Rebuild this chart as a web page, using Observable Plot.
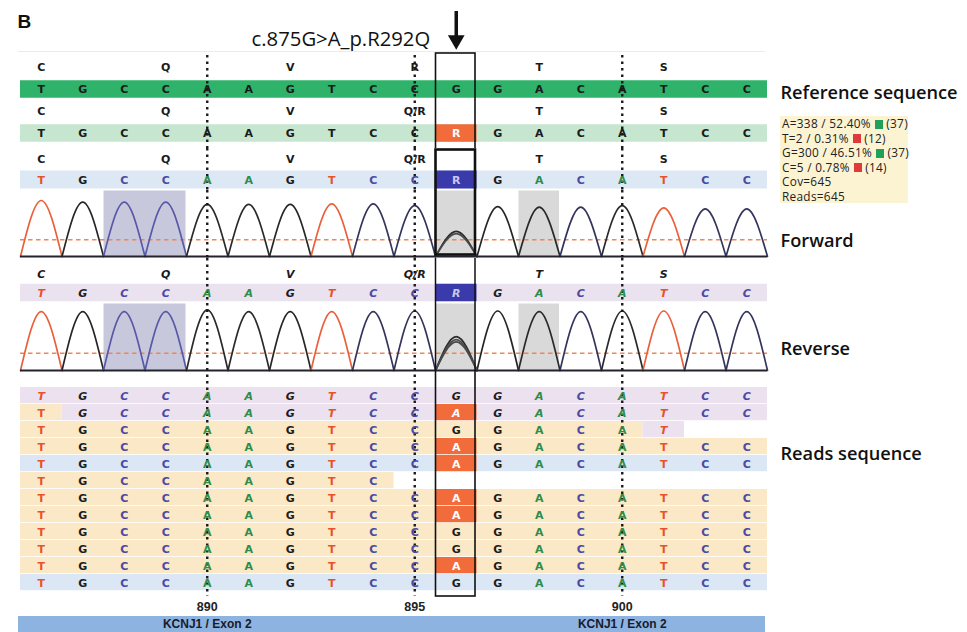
<!DOCTYPE html>
<html>
<head>
<meta charset="utf-8">
<script src="https://cdn.jsdelivr.net/npm/d3@7"></script>
<script src="https://cdn.jsdelivr.net/npm/@observablehq/plot@0.6"></script>
<style>
  html, body { margin: 0; padding: 0; background: #fff; }
  #chart { position: relative; width: 967px; height: 632px; overflow: hidden; background: #fff; }
  #chart svg { display: block; }
  #legend { position: absolute; left: 780px; top: 116px; width: 128px; height: 87px; background: #fcf3d3;
    font-family: "Open Sans", sans-serif; font-size: 11.8px; line-height: 14.5px; color: #222;
    padding-left: 2px; box-sizing: border-box; letter-spacing: 0.3px; white-space: nowrap; }
  #legend .sq { display: inline-block; width: 8px; height: 9px; margin: 0 3px 0 1px; vertical-align: -0.5px; }
</style>
</head>
<body>
<div id="chart"><div id="legend"></div></div>
<script>
// ---------------- data ----------------
const panelLabel = "B";
const titleText = "c.875G>A_p.R292Q";
const positions = [886, 887, 888, 889, 890, 891, 892, 893, 894, 895, 896, 897, 898, 899, 900, 901, 902, 903];
const refSeq       = ["T","G","C","C","A","A","G","T","C","C","G","G","A","C","A","T","C","C"];
const consensusSeq = ["T","G","C","C","A","A","G","T","C","C","R","G","A","C","A","T","C","C"];
const forwardSeq   = ["T","G","C","C","A","A","G","T","C","C","R","G","A","C","A","T","C","C"];
const reverseSeq   = ["T","G","C","C","A","A","G","T","C","C","R","G","A","C","A","T","C","C"];
const aaPositions = [886, 889, 892, 895, 898, 901];
const aaReference = ["C", "Q", "V", "R", "T", "S"];
const aaSample    = ["C", "Q", "V", "Q/R", "T", "S"];
const variantPos = 896;
const guidePositions = [890, 895, 900];
const lowQualityCols = [888, 889];
const highlightedCols = [896, 898];
const forwardPeaks = [1.0, 0.97, 0.97, 0.97, 0.93, 0.93, 0.93, 0.94, 0.94, 0.91, 0.45, 0.89, 0.88, 0.88, 0.91, 0.87, 0.85, 0.85];
const forwardSecondaryPeaks = [0.41];
const reversePeaks = [0.99, 0.99, 0.99, 0.99, 1.02, 0.99, 0.99, 0.99, 0.99, 1.0, 0.57, 1.0, 0.99, 0.99, 1.0, 1.0, 0.99, 0.99];
const reverseSecondaryPeaks = [0.52, 0.48];
const forwardThreshold = 0.3;
const reverseThreshold = 0.29;
const reads = [
  "TGCCAAGTCCGGACATCC",
  "TGCCAAGTCCAGACATCC",
  "TGCCAAGTCCGGACAT  ",
  "TGCCAAGTCCAGACATCC",
  "TGCCAAGTCCAGACATCC",
  "TGCCAAGTC         ",
  "TGCCAAGTCCAGACATCC",
  "TGCCAAGTCCAGACATCC",
  "TGCCAAGTCCGGACATCC",
  "TGCCAAGTCCGGACATCC",
  "TGCCAAGTCCAGACATCC",
  "TGCCAAGTCCGGACATCC"
];
// F = forward read, R = reverse read, B = other forward read (blue)
const readStrands = [
  "RRRRRRRRRRRRRRRRRR",
  "FRRRRRRRRRRRRRRRRR",
  "FFFFFFFFFFFFFFFR  ",
  "FFFFFFFFFFFFFFFFFF",
  "BBBBBBBBBBBBBBBBBB",
  "FFFFFFFFF         ",
  "FFFFFFFFFFFFFFFFFF",
  "FFFFFFFFFFFFFFFFFF",
  "FFFFFFFFFFFFFFFFFF",
  "FFFFFFFFFFFFFFFFFF",
  "FFFFFFFFFFFFFFFFFF",
  "BBBBBBBBBBBBBBBBBB"
];
const legendBases = ["A", "T", "G", "C"];
const legendCounts = [338, 2, 300, 5];
const legendPercents = ["52.40", "0.31", "46.51", "0.78"];
const legendQuality = [37, 12, 37, 14];
const legendPass = [true, false, true, false];
const coverage = 645;
const readCount = 645;
const exonName = "KCNJ1 / Exon 2";
const exonLabelPositions = [890, 900];
const trackLabels = ["Reference sequence", "Forward", "Reverse", "Reads sequence"];

// ---------------- styles ----------------
const baseColor = {T: "#e6522c", G: "#1c1c1c", C: "#4a4aa4", A: "#2f8c48"};
const peakColor = {T: "#e9603a", G: "#262626", C: "#34345c", A: "#2a2a2a", R: "#2a2a2a"};
const lowQualityPeak = "#5858a8";
const letterFont = "DejaVu Sans";
const labelFont = "Open Sans";
const letterSize = 11;
const xMin = positions[0] - 0.5;
const xMax = positions[positions.length - 1] + 0.5;
const readColor = {F: "#fbe8c6", R: "#ebe1ef", B: "#dbe7f4"};
const isAmbiguous = b => b === "R";

function section(height, opts) {
  return Plot.plot({
    width: 967, height, marginLeft: 20, marginRight: 200, marginTop: 0, marginBottom: 0,
    x: {domain: [xMin, xMax], axis: null},
    style: {background: "white", overflow: "hidden", display: "block"},
    ...opts
  });
}
const cols = seq => seq.map((b, i) => ({b, p: positions[i], i}));
const trackBand = (track, fill, inset) => Plot.barX([track], {x1: () => xMin, x2: () => xMax, y: d => d, fill, insetTop: inset, insetBottom: inset});
function seqLetters(seq, track, {colored = true, italic = false, ambigFill = "#ffffff"} = {}) {
  return Plot.text(cols(seq).filter(d => d.b.trim()), {
    x: "p", y: () => track, text: "b",
    fill: d => isAmbiguous(d.b) ? ambigFill : colored ? baseColor[d.b] : "#1a1a1a",
    fontFamily: letterFont, fontWeight: "bold", fontSize: letterSize,
    fontStyle: italic ? "italic" : "normal"
  });
}
function aaLetters(list, track, italic = false) {
  return Plot.text(aaPositions.map((p, i) => ({p, aa: list[i]})), {
    x: "p", y: () => track, text: "aa", fill: "#1a1a1a",
    fontFamily: letterFont, fontWeight: "bold", fontSize: letterSize, fontStyle: italic ? "italic" : "normal"
  });
}
const guides = (top, bottom) => Plot.ruleX(guidePositions, {x: d => d, stroke: "#1a1a1a", strokeWidth: 2.4, strokeDasharray: "2.5,4", insetTop: top, insetBottom: bottom});
const box = (width, top, bottom) => Plot.rect([variantPos], {x1: d => d - 0.5, x2: d => d + 0.5, fill: "none", stroke: "#111", strokeWidth: width, insetLeft: 0.5, insetRight: 1.5, insetTop: top, insetBottom: bottom});
const rightLabel = (text, opts) => Plot.text([text], {text: d => d, frameAnchor: "right", textAnchor: "start", dx: 13, fontFamily: labelFont, fontWeight: 600, fontSize: 18.2, fill: "#111", ...opts});

function traceData(heights, seq, secondary) {
  const pts = [];
  heights.forEach((h, i) => {
    const p = positions[i];
    const color = lowQualityCols.includes(p) ? lowQualityPeak : peakColor[seq[i]];
    [[p - 0.5, 0], [p, h], [p + 0.5, 0]].forEach(([x, y]) => pts.push({x, y, id: "p" + i, color}));
  });
  secondary.forEach((h, k) => {
    [[variantPos - 0.5, 0], [variantPos, h], [variantPos + 0.5, 0]].forEach(([x, y]) => pts.push({x, y, id: "s" + k, color: "#4a4a4a"}));
  });
  return pts;
}
function chromatogram(height, mTop, mBottom, heights, seq, secondary, threshold, label, labelDy, boxMark) {
  const shades = [
    {x1: d3.min(lowQualityCols) - 0.5, x2: d3.max(lowQualityCols) + 0.5, fill: "#c8c8dd"},
    ...highlightedCols.map(p => ({x1: p - 0.5, x2: p + 0.5, fill: "#d9d9d9"}))
  ];
  return section(height, {
    marginTop: mTop, marginBottom: mBottom,
    y: {domain: [0, 1], axis: null},
    marks: [
      Plot.rect(shades, {x1: "x1", x2: "x2", fill: "fill", insetTop: -mTop + 0.5, insetLeft: 0.5, insetRight: 0.5}),
      Plot.ruleY([threshold], {stroke: "#f08656", strokeWidth: 1.5, strokeDasharray: "4.5,3.5"}),
      Plot.line(traceData(heights, seq, secondary), {x: "x", y: "y", z: "id", curve: "natural", stroke: "color", strokeWidth: 1.7}),
      Plot.ruleY([0], {stroke: "#23232e", strokeWidth: 2}),
      guides(-mTop, -mBottom),
      boxMark,
      rightLabel(label, {dy: labelDy})
    ]
  });
}

const chart = document.getElementById("chart");
const legendEl = document.getElementById("legend");
const add = svg => chart.insertBefore(svg, legendEl);

// ---- header ----
add(section(52, {
  marginBottom: 0.5,
  y: {domain: [0, 1], axis: null},
  marks: [
    Plot.ruleY([0], {stroke: "#d6d6d6", strokeWidth: 1, insetLeft: -2, insetRight: 2}),
    Plot.text([panelLabel], {text: d => d, frameAnchor: "top-left", textAnchor: "start", lineAnchor: "middle", dx: -3, dy: 21, fontFamily: "Liberation Sans", fontWeight: "bold", fontSize: 19, fill: "#111"}),
    Plot.text([titleText], {x: () => variantPos, text: d => d, frameAnchor: "top", textAnchor: "end", lineAnchor: "middle", dx: -26, dy: 39, fontFamily: labelFont, fontSize: 20.3, fill: "#111"}),
    Plot.ruleX([variantPos], {x: d => d, stroke: "#111", strokeWidth: 3.5, insetTop: 11, insetBottom: 14}),
    Plot.dot([variantPos], {x: d => d, frameAnchor: "bottom", dy: -12, symbol: "triangle", r: 6.2, rotate: 180, fill: "#111", stroke: "none"})
  ]
}));

// ---- reference / consensus tracks ----
add(section(96, {
  marginTop: 3, marginBottom: 3,
  y: {domain: ["aa1", "ref", "aa2", "cons"], axis: null, padding: 0},
  marks: [
    trackBand("ref", "#2fb26a", 2.25),
    trackBand("cons", "#c6e6cf", 2.25),
    Plot.barX([variantPos], {x1: d => d - 0.5, x2: d => d + 0.5, y: () => "cons", fill: "#f26b3b", insetTop: 2.25, insetBottom: 2.25}),
    guides(0, -3),
    aaLetters(aaReference, "aa1"),
    seqLetters(refSeq, "ref", {colored: false}),
    aaLetters(aaSample, "aa2"),
    seqLetters(consensusSeq, "cons", {colored: false, ambigFill: "#ffffff"}),
    box(1.6, -2, -20),
    rightLabel(trackLabels[0], {y: () => "ref", dy: 4, frameAnchor: "right"})
  ]
}));

// ---- forward sequence ----
add(section(42, {
  y: {domain: ["aa3", "fwd"], axis: null, padding: 0},
  marks: [
    trackBand("fwd", "#dde8f5", 1.5),
    Plot.barX([variantPos], {x1: d => d - 0.5, x2: d => d + 0.5, y: () => "fwd", fill: "#3a3aab", insetTop: 1.5, insetBottom: 1.5}),
    guides(0, 0),
    aaLetters(aaSample, "aa3"),
    seqLetters(forwardSeq, "fwd", {ambigFill: "#c9c9f0"}),
    box(2.6, 1.5, -20)
  ]
}));

// ---- forward chromatogram (inside the thick box) ----
add(chromatogram(68, 10, 2, forwardPeaks, forwardSeq, forwardSecondaryPeaks, forwardThreshold, trackLabels[1], 13, box(2.6, -30, 1.5)));

// ---- reverse sequence ----
add(section(45, {
  marginTop: 5, marginBottom: 1,
  y: {domain: ["aa4", "rev"], axis: null, padding: 0},
  marks: [
    trackBand("rev", "#ebe2f0", 0.75),
    Plot.barX([variantPos], {x1: d => d - 0.5, x2: d => d + 0.5, y: () => "rev", fill: "#3a3aab", insetTop: 0.75, insetBottom: 0.75}),
    guides(-5, -1),
    aaLetters(aaSample, "aa4", true),
    seqLetters(reverseSeq, "rev", {italic: true, ambigFill: "#c9c9f0"}),
    box(1.5, -30, -30)
  ]
}));

// ---- reverse chromatogram ----
add(chromatogram(69, 7.5, 2, reversePeaks, reverseSeq, reverseSecondaryPeaks, reverseThreshold, trackLabels[2], 8, box(1.5, -30, -30)));

// ---- reads ----
const readRuns = [];
readStrands.forEach((s, r) => {
  let start = 0;
  for (let i = 1; i <= s.length; i++) {
    if (i === s.length || s[i] !== s[start]) {
      if (s[start] !== " ") readRuns.push({r, strand: s[start], x1: positions[start] - 0.5, x2: positions[i - 1] + 0.5});
      start = i;
    }
  }
});
const readBases = [];
reads.forEach((seq, r) => seq.split("").forEach((b, i) => {
  if (b !== " ") readBases.push({r, b, p: positions[i], strand: readStrands[r][i], mismatch: b !== refSeq[i]});
}));
const readText = (data, italic) => Plot.text(data, {x: "p", y: "r", text: "b",
  fill: d => d.mismatch ? "#ffffff" : baseColor[d.b], fontStyle: italic ? "italic" : "normal",
  fontFamily: letterFont, fontWeight: "bold", fontSize: letterSize});
add(section(226, {
  marginTop: 14.5, marginBottom: 6.5,
  y: {domain: d3.range(reads.length), axis: null, padding: 0},
  marks: [
    Plot.barX(readRuns, {x1: "x1", x2: "x2", y: "r", fill: d => readColor[d.strand], insetBottom: 0.8}),
    Plot.barX(readBases.filter(d => d.mismatch), {x1: d => d.p - 0.5, x2: d => d.p + 0.5, y: "r", fill: "#f26b3b", insetBottom: 0.8}),
    guides(-12, -4.5),
    readText(readBases.filter(d => d.strand !== "R"), false),
    readText(readBases.filter(d => d.strand === "R"), true),
    box(1.6, -40, -4.5),
    rightLabel(trackLabels[3], {y: () => 3, dy: 7})
  ]
}));

// ---- position axis & exon ----
add(section(34, {
  marginTop: 18, marginBottom: 0,
  marks: [
    Plot.rect([exonName], {x1: () => xMin, x2: () => xMax, fill: "#8db3e1", insetLeft: -2, insetRight: 2}),
    Plot.axisX(guidePositions, {anchor: "top", tickSize: 0, tickPadding: 6, fontSize: 12.5, fontWeight: "bold", fontFamily: "Liberation Sans", fill: "#222", tickFormat: d => String(d)}),
    Plot.text(exonLabelPositions, {x: d => d, text: () => exonName, fontFamily: "Liberation Sans", fontWeight: "bold", fontSize: 12, fill: "#1a1a2a"})
  ]
}));

// ---- legend (HTML) ----
legendBases.forEach((b, i) => {
  const div = document.createElement("div");
  div.innerHTML = `${b}=${legendCounts[i]} / ${legendPercents[i]}% <span class="sq" style="background:${legendPass[i] ? "#22a05a" : "#e0393b"}"></span>(${legendQuality[i]})`;
  legendEl.appendChild(div);
});
[["Cov", coverage], ["Reads", readCount]].forEach(([k, v]) => {
  const div = document.createElement("div");
  div.textContent = `${k}=${v}`;
  legendEl.appendChild(div);
});
</script>
</body>
</html>
